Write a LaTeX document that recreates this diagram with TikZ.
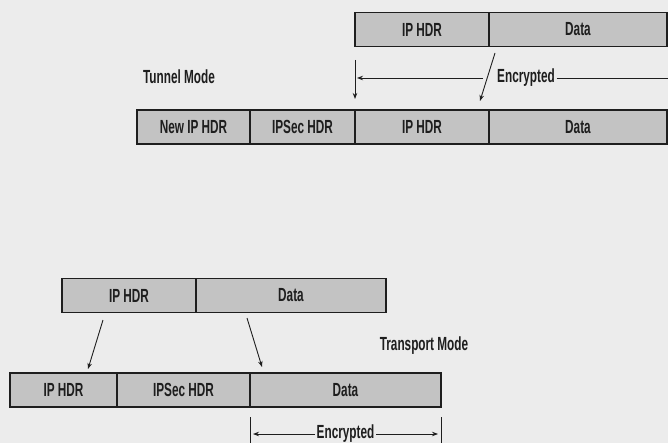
\documentclass[tikz,border=0pt]{standalone}
\usepackage{fontspec}
\setmainfont[FakeStretch=0.62]{Liberation Sans}
\usetikzlibrary{arrows.meta}
\definecolor{bg}{HTML}{ECECEC}
\definecolor{boxfill}{HTML}{C3C3C3}
\definecolor{ink}{HTML}{1E1E1E}
\tikzset{
  pkt/.style={draw=ink, line width=1.1pt, fill=boxfill, inner sep=0pt, font=\fontsize{19}{20}\selectfont\bfseries, text=ink, minimum height=34pt},
  lbl/.style={font=\fontsize{19}{20}\selectfont\bfseries, text=ink, inner sep=1.5pt},
  conn/.style={draw=ink, line width=0.9pt, -{Stealth[length=6pt,width=4.5pt]}},
  plain/.style={draw=ink, line width=0.9pt}
}
\begin{document}
\begin{tikzpicture}[x=1pt,y=-1pt]
\fill[bg] (0,0) rectangle (668,443);
\useasboundingbox (0,0) rectangle (668,443);
% Tunnel mode, original packet
\node[pkt, minimum width=134pt] (tip) at (422,29.5) {IP HDR};
\node[pkt, minimum width=178pt] (tdata) at (578,29.5) {Data};
\node[lbl] (tmode) at (179,77) {Tunnel Mode};
% Tunnel mode, encrypted packet
\node[pkt, minimum width=113pt] (tnew) at (193.5,127) {New IP HDR};
\node[pkt, minimum width=105pt] (tipsec) at (302.5,127) {IPSec HDR};
\node[pkt, minimum width=134pt] (tip2) at (422,127) {IP HDR};
\node[pkt, minimum width=178pt] (tdata2) at (578,127) {Data};
% Tunnel encrypted marker
\node[lbl] (tenc) at (526,78) {Encrypted};
\coordinate (tv1) at (355,60);
\coordinate (tv2) at (355,99);
\coordinate (tl) at (357,78);
\coordinate (tlr) at (483,78);
\coordinate (tr) at (668,78);
\coordinate (ts1) at (495,53);
\coordinate (ts2) at (480,101);
\draw[conn] (tv1) -- (tv2);
\draw[conn] (tlr) -- (tl);
\draw[plain] (tenc.east) -- (tr);
\draw[conn] (ts1) -- (ts2);
% Transport mode, original packet
\node[pkt, minimum width=134pt] (pip) at (129,295.5) {IP HDR};
\node[pkt, minimum width=190pt] (pdata) at (291,295.5) {Data};
\node[lbl] (pmode) at (424,346) {Transport Mode};
% Transport mode, encrypted packet
\node[pkt, minimum width=107pt] (pip2) at (63.5,390) {IP HDR};
\node[pkt, minimum width=133pt] (pipsec) at (183.5,390) {IPSec HDR};
\node[pkt, minimum width=191pt] (pdata2) at (345.5,390) {Data};
\coordinate (pa1) at (103,320);
\coordinate (pa2) at (88,369);
\coordinate (pb1) at (247,318);
\coordinate (pb2) at (262,367);
\draw[conn] (pa1) -- (pa2);
\draw[conn] (pb1) -- (pb2);
% Transport encrypted marker
\coordinate (pl1) at (250,417);
\coordinate (pl2) at (250,443);
\coordinate (pr1) at (441,417);
\coordinate (pr2) at (441,443);
\draw[plain] (pl1) -- (pl2);
\draw[plain] (pr1) -- (pr2);
\node[lbl, fill=bg] (penc) at (345.5,434) {Encrypted};
\coordinate (pel) at (253,434);
\coordinate (per) at (438,434);
\draw[conn] (penc.west) -- (pel);
\draw[conn] (penc.east) -- (per);
\end{tikzpicture}
\end{document}
